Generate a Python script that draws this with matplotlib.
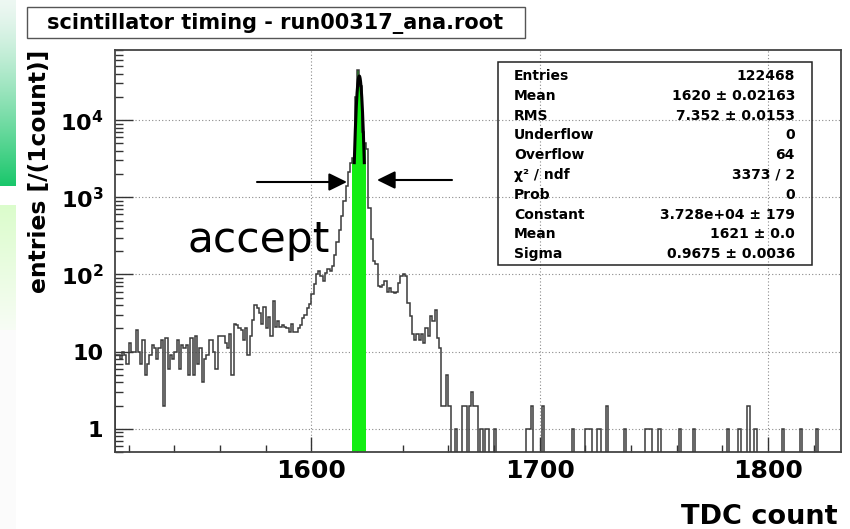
import numpy as np
import matplotlib.pyplot as plt
from matplotlib.patches import Rectangle
from matplotlib.ticker import FixedLocator, FixedFormatter, MultipleLocator, LogLocator, NullFormatter

plt.rcParams['font.family'] = ['DejaVu Sans']
plt.rcParams['font.weight'] = 'bold'
plt.rcParams['mathtext.fontset'] = 'dejavusans'
plt.rcParams['mathtext.default'] = 'bf'

# TDC histogram, one bin per count, range [1514, 1832)
tdc_first, tdc_last = 1514, 1832

# 1514 .. 1594 : flat pedestal
left_counts = [9, 9, 8, 10, 9, 7, 13, 10, 10, 19, 10, 7, 14, 5, 7, 9, 12, 11, 8, 11,
               14, 2, 15, 6, 9, 8, 10, 14, 6, 12, 11, 12, 5, 15, 5, 16, 7, 11, 4, 8,
               9, 14, 14, 10, 6, 16,
               16, 16, 13, 11, 17, 5, 23, 22, 20, 19, 14, 20, 9, 16, 26, 40, 37, 32, 23, 38,
               20, 28, 16, 45, 21, 25, 21, 22, 21, 20, 18, 23, 18, 18, 20]
# 1595 .. 1617 : rising edge
rise_counts = [22, 27, 30, 37, 42, 55, 75, 100, 110, 95, 82, 105, 116, 110, 128,
               180, 260, 380, 580, 900, 1400, 2100, 2800]
# 1618 .. 1623 : accepted window
accept_counts = [3200, 20000, 44000, 28000, 7000, 5100]
# 1624 .. 1660 : falling edge
fall_counts = [4200, 735, 285, 150, 135, 70, 68, 72, 82, 60, 66, 60, 58, 60, 78, 95,
               100, 95, 43, 29, 17, 14, 17, 14, 17, 13, 20, 16, 29, 25, 35, 15, 11,
               2, 2, 5, 2]
# sparse tail above 1660
tail_tdc = [1663, 1666, 1667, 1669, 1670, 1671, 1672, 1674, 1676, 1677, 1680, 1694,
            1695, 1696, 1701, 1714, 1720, 1721, 1722, 1725, 1726, 1729, 1737, 1746,
            1747, 1748, 1752, 1761, 1767, 1782, 1787, 1791, 1794, 1806, 1814, 1821]
tail_counts = [1, 2, 2, 2, 3, 2, 2, 1, 1, 1, 1, 1,
               1, 2, 2, 1, 1, 1, 1, 1, 1, 2, 1, 1,
               1, 1, 1, 1, 1, 1, 1, 2, 1, 1, 1, 1]

accept_lo = 1618
fit_constant = 3.728e4
fit_mean = 1621
fit_sigma = 0.9675
fit_range = (1618.8, 1623.2)

stat_labels = ['Entries', 'Mean', 'RMS', 'Underflow', 'Overflow', '\u03c7\u00b2 / ndf',
               'Prob', 'Constant', 'Mean', 'Sigma']
stat_values = ['122468', '1620 \u00b1 0.02163', '7.352 \u00b1 0.0153', '0', '64', '3373 / 2',
               '0', '3.728e+04 \u00b1 179', '1621 \u00b1 0.0', '0.9675 \u00b1 0.0036']

counts = np.zeros(tdc_last - tdc_first)
core = left_counts + rise_counts + accept_counts + fall_counts
counts[:len(core)] = core
for t, c in zip(tail_tdc, tail_counts):
    counts[t - tdc_first] = c
edges = np.arange(tdc_first, tdc_last + 1)
acc_edges = np.arange(accept_lo, accept_lo + len(accept_counts) + 1)

W, H = 850, 529


def fx(px):
    return px / W


def fy(py):
    return 1 - py / H


fig = plt.figure(figsize=(8.5, 5.29), dpi=100)

# green strip on the left edge
deco = fig.add_axes([0, 0, fx(16), 1])
strip = np.ones((H, 1, 3)) * 0.985
t = np.linspace(0, 1, 186)[:, None] ** 1.3
strip[:186, 0, :] = (1 - t) * np.array([0.93, 0.97, 0.95]) + t * np.array([0.10, 0.78, 0.42])
strip[186:205, 0, :] = 1.0
t2 = np.linspace(0, 1, 125)[:, None]
strip[205:330, 0, :] = (1 - t2) * np.array([0.86, 0.99, 0.80]) + t2 * np.array([0.97, 0.99, 0.96])
deco.imshow(strip, aspect='auto', extent=(0, 1, H, 0))
deco.axis('off')

ax = fig.add_axes([fx(115), fy(452), fx(841) - fx(115), fy(50) - fy(452)])
ax.set_yscale('log', nonpositive='clip')
ax.set_xlim(tdc_first, tdc_last)
ax.set_ylim(0.5, 8.1e4)

ax.grid(True, which='major', ls=(0, (1, 2)), color='#8a8a8a', lw=0.8)

ax.stairs(accept_counts, acc_edges, fill=True, color='#12ee12', zorder=2)
ax.stairs(counts, edges, color='#3a3a3a', lw=1.1, zorder=3)

xf = np.linspace(fit_range[0], fit_range[1], 200)
yf = fit_constant * np.exp(-0.5 * ((xf - fit_mean) / fit_sigma) ** 2)
ax.plot(xf, yf, color='black', lw=2.2, zorder=4)

ax.xaxis.set_major_locator(FixedLocator([1600, 1700, 1800]))
ax.xaxis.set_minor_locator(MultipleLocator(20))
ax.yaxis.set_major_locator(FixedLocator([1, 10, 100, 1e3, 1e4]))
ax.yaxis.set_major_formatter(FixedFormatter(['1', '10', '$10^{2}$', '$10^{3}$', '$10^{4}$']))
ax.yaxis.set_minor_locator(LogLocator(base=10, subs=np.arange(2, 10), numticks=20))
ax.yaxis.set_minor_formatter(NullFormatter())

ax.tick_params(axis='x', which='major', direction='in', length=11, width=1, colors='#333333',
               labelcolor='black', labelsize=18, pad=5)
ax.tick_params(axis='x', which='minor', direction='in', length=5, width=1, colors='#333333')
ax.tick_params(axis='y', which='major', direction='in', length=13, width=1, colors='#333333',
               labelcolor='black', labelsize=16, pad=8.5)
ax.tick_params(axis='y', which='minor', direction='in', length=6, width=1, colors='#333333')
for s in ax.spines.values():
    s.set_color('#444444')
    s.set_linewidth(1.3)

# acceptance arrows
arrow = dict(arrowstyle='-|>,head_length=0.55,head_width=0.27', color='black', lw=1.5,
             mutation_scale=20, shrinkA=0, shrinkB=0)
fig.patches  # keep figure-level drawing below
ax.annotate('', xy=(fx(347), fy(182)), xytext=(fx(257), fy(182)),
            xycoords='figure fraction', textcoords='figure fraction', arrowprops=arrow)
ax.annotate('', xy=(fx(377), fy(180)), xytext=(fx(452), fy(180)),
            xycoords='figure fraction', textcoords='figure fraction', arrowprops=arrow)
fig.text(fx(188), fy(252), 'accept', fontsize=30.5, fontweight='normal', va='baseline')

# title box
fig.patches.append(Rectangle((fx(27), fy(38)), fx(525) - fx(27), fy(7) - fy(38),
                             transform=fig.transFigure, facecolor='white', edgecolor='#555555', lw=1))
fig.text(fx(47), fy(23), 'scintillator timing - run00317_ana.root', fontsize=15, va='center')

# stats box
fig.patches.append(Rectangle((fx(498), fy(265)), fx(812) - fx(498), fy(62) - fy(265),
                             transform=fig.transFigure, facecolor='none', edgecolor='#222222',
                             lw=1.1, zorder=5))
for i, (lab, val) in enumerate(zip(stat_labels, stat_values)):
    yb = fy(80 + i * 19.8)
    fig.text(fx(514), yb, lab, fontsize=10, va='baseline', ha='left')
    fig.text(fx(795), yb, val, fontsize=10, va='baseline', ha='right')

fig.text(fx(40), fy(50), 'entries [/(1count)]', rotation=90, ha='center', va='top', fontsize=16.8)
fig.text(fx(838), fy(524), 'TDC count', ha='right', va='baseline', fontsize=19.5)

fig.savefig('out.png', dpi=100)
